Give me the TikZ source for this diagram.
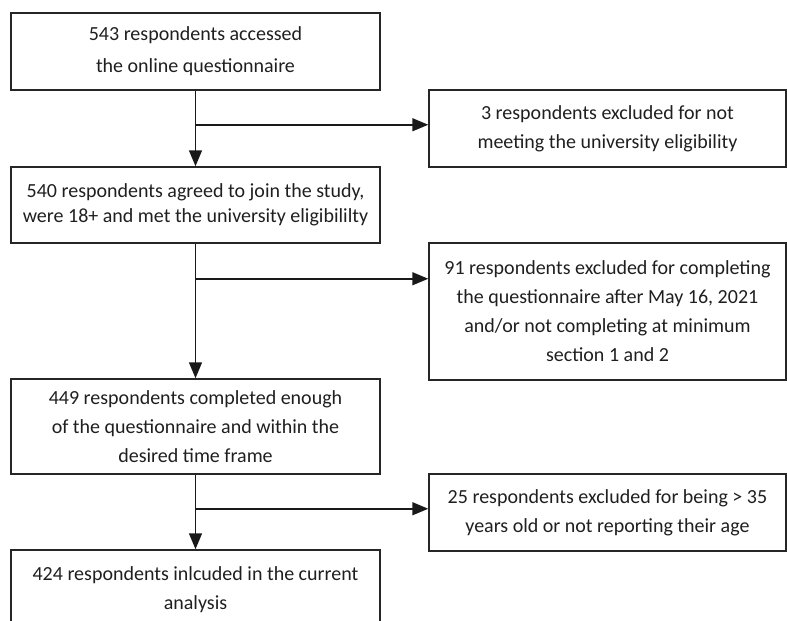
\documentclass[tikz,border=0pt]{standalone}
\usepackage{fontspec}
\setmainfont{Carlito}
\usetikzlibrary{arrows.meta}

\begin{document}
\begin{tikzpicture}[x=1pt,y=-1pt,
  box/.style={draw=black!85, line width=1.5pt, align=center, inner sep=0pt,
    text=black!88, font=\fontsize{20}{29}\selectfont},
  leftbox/.style={box, minimum width=369pt},
  rightbox/.style={box, minimum width=357pt},
  flow/.style={line width=1.5pt, draw=black!90, -{Triangle[length=16pt,width=13pt]}}]
\useasboundingbox (0,0) rectangle (787,621);
\clip (0,0) rectangle (787,621);

% main column
\node[leftbox, minimum height=77pt, font=\fontsize{20}{32}\selectfont] (access) at (195.5,51.5) {543 respondents accessed\\the online questionnaire};
\node[leftbox, minimum height=76pt, font=\fontsize{20}{25}\selectfont] (agreed) at (195.5,205) {540 respondents agreed to join the study,\\were 18+ and met the university eligibililty};
\node[leftbox, minimum height=95pt] (complete) at (195.5,426.5) {449 respondents completed enough\\of the questionnaire and within the\\desired time frame};
\node[leftbox, minimum height=80pt] (included) at (195.5,590) {424 respondents inlcuded in the current\\analysis};

% exclusions
\node[rightbox, minimum height=77pt] (exclA) at (607.5,128.5) {3 respondents excluded for not\\meeting the university eligibility};
\node[rightbox, minimum height=137pt] (exclB) at (607.5,311.5) {91 respondents excluded for completing\\the questionnaire after May 16, 2021\\and/or not completing at minimum\\section 1 and 2};
\node[rightbox, minimum height=77pt] (exclC) at (607.5,512.5) {25 respondents excluded for being > 35\\years old or not reporting their age};

% split points
\path (access.south) ++(0,34) coordinate (splitA);
\path (agreed.south) ++(0,35) coordinate (splitB);
\path (complete.south) ++(0,34) coordinate (splitC);

\draw[flow] (access) -- (agreed);
\draw[flow] (agreed) -- (complete);
\draw[flow] (complete) -- (included);
\draw[flow] (splitA) -- (splitA -| exclA.west);
\draw[flow] (splitB) -- (splitB -| exclB.west);
\draw[flow] (splitC) -- (splitC -| exclC.west);
\end{tikzpicture}
\end{document}
